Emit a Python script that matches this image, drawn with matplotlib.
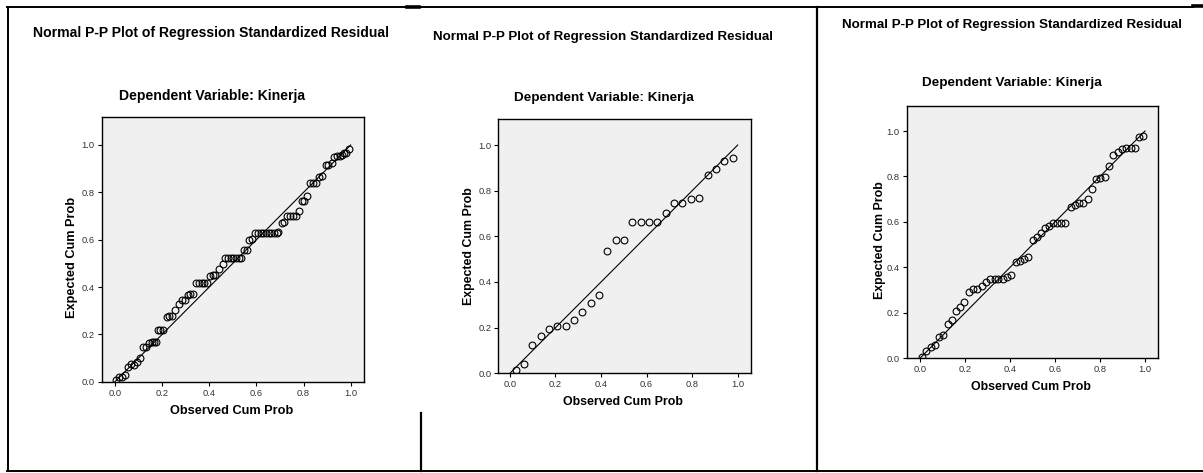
import matplotlib
matplotlib.use("Agg")
import matplotlib.pyplot as plt
from matplotlib.lines import Line2D

W, H = 1203, 473

title = "Normal P-P Plot of Regression Standardized Residual"
subtitle = "Dependent Variable: Kinerja"
xlabel = "Observed Cum Prob"
ylabel = "Expected Cum Prob"
tick_vals = [0.0, 0.2, 0.4, 0.6, 0.8, 1.0]
tick_labels = ["0.0", "0.2", "0.4", "0.6", "0.8", "1.0"]

# Panel 1 data
obs1 = [0.004, 0.018, 0.030, 0.042,
        0.057, 0.068, 0.081, 0.093, 0.106,
        0.120, 0.132, 0.144, 0.156, 0.167, 0.173,
        0.181, 0.191, 0.204,
        0.219, 0.231, 0.242, 0.256, 0.270, 0.283, 0.297, 0.308, 0.319, 0.330,
        0.345, 0.356, 0.368, 0.379, 0.390,
        0.403, 0.414, 0.426, 0.443, 0.457,
        0.468, 0.479, 0.491, 0.502, 0.513, 0.525, 0.536,
        0.547, 0.559, 0.570, 0.583,
        0.595, 0.607, 0.618, 0.629, 0.641, 0.652, 0.663, 0.675, 0.686, 0.693,
        0.707, 0.719, 0.730, 0.744, 0.755, 0.767, 0.781, 0.792, 0.803, 0.815,
        0.829, 0.840, 0.854, 0.866, 0.880, 0.894, 0.905, 0.919,
        0.931, 0.942, 0.953, 0.962, 0.970, 0.982, 0.993]
exp1 = [0.007, 0.018, 0.021, 0.028,
        0.061, 0.073, 0.070, 0.082, 0.101,
        0.145, 0.145, 0.162, 0.166, 0.166, 0.166,
        0.217, 0.217, 0.217,
        0.273, 0.276, 0.276, 0.303, 0.327, 0.345, 0.345, 0.366, 0.372, 0.372,
        0.415, 0.415, 0.415, 0.415, 0.418,
        0.446, 0.449, 0.449, 0.477, 0.496,
        0.524, 0.524, 0.524, 0.524, 0.524, 0.524, 0.524,
        0.556, 0.556, 0.599, 0.604,
        0.630, 0.630, 0.630, 0.630, 0.630, 0.630, 0.630, 0.630, 0.630, 0.634,
        0.672, 0.675, 0.700, 0.700, 0.700, 0.700, 0.723, 0.762, 0.762, 0.785,
        0.841, 0.841, 0.841, 0.866, 0.869, 0.917, 0.917, 0.925,
        0.951, 0.954, 0.954, 0.958, 0.965, 0.968, 0.983]

# Panel 2 data
obs2 = [0.025, 0.061, 0.098, 0.135, 0.171, 0.208, 0.245, 0.281, 0.318,
        0.354, 0.391, 0.428, 0.464, 0.501, 0.537, 0.574, 0.611, 0.647,
        0.684, 0.720, 0.757, 0.794, 0.830, 0.868, 0.905, 0.941, 0.978]
exp2 = [0.015, 0.039, 0.126, 0.165, 0.196, 0.206, 0.206, 0.232, 0.270,
        0.310, 0.341, 0.535, 0.583, 0.583, 0.661, 0.661, 0.661, 0.661,
        0.703, 0.744, 0.744, 0.762, 0.770, 0.868, 0.893, 0.931, 0.942]

# Panel 3 data
obs3 = [0.007, 0.027, 0.047, 0.067, 0.086, 0.104, 0.123, 0.141, 0.160, 0.178,
        0.197, 0.216, 0.236, 0.255, 0.274, 0.293, 0.313, 0.332, 0.348, 0.367,
        0.385, 0.404, 0.425, 0.444, 0.462, 0.481, 0.501, 0.519, 0.538, 0.556,
        0.575, 0.593, 0.610, 0.627, 0.644, 0.671, 0.689, 0.707, 0.726, 0.748,
        0.766, 0.782, 0.801, 0.821, 0.841, 0.859, 0.879, 0.898, 0.917, 0.936,
        0.956, 0.973, 0.993]
exp3 = [0.007, 0.034, 0.051, 0.057, 0.094, 0.101, 0.150, 0.167, 0.207, 0.227,
        0.249, 0.293, 0.306, 0.305, 0.320, 0.334, 0.347, 0.347, 0.347, 0.347,
        0.359, 0.368, 0.424, 0.430, 0.439, 0.444, 0.520, 0.535, 0.553, 0.572,
        0.584, 0.594, 0.594, 0.594, 0.594, 0.664, 0.675, 0.685, 0.685, 0.699,
        0.743, 0.787, 0.792, 0.799, 0.846, 0.894, 0.909, 0.921, 0.926, 0.926,
        0.926, 0.972, 0.979]

plt.rcParams['font.family'] = ['Liberation Sans', 'DejaVu Sans']

fig = plt.figure(figsize=(W / 100, H / 100), dpi=100)


def fx(px):
    return px / W


def fy(py):
    return 1 - py / H


panels = [
    dict(obs=obs1, exp=exp1, box=(101.7, 117.3, 364.3, 381.7), xlim=(-0.0564, 1.0577), ylim=(0, 1.117),
         title=(211, 33, 10.1), sub=(211.7, 95.7, 10.1), lab=9.2, xl=(231.7, 410.7), yl=(72.3, 257.5)),
    dict(obs=obs2, exp=exp2, box=(498.3, 119.0, 750.7, 373.3), xlim=(-0.051, 1.057), ylim=(0, 1.114),
         title=(603, 37.3, 9.65), sub=(603.5, 98.3, 9.7), lab=8.9, xl=(623, 402.3), yl=(469, 246)),
    dict(obs=obs3, exp=exp3, box=(906.7, 106.0, 1158.3, 358.3), xlim=(-0.059, 1.059), ylim=(0, 1.11),
         title=(1012, 25, 9.6), sub=(1012, 83.3, 9.7), lab=8.9, xl=(1031, 387.3), yl=(880, 240)),
]

for p in panels:
    x0, y0, x1, y1 = p['box']
    ax = fig.add_axes([fx(x0), fy(y1), (x1 - x0) / W, (y1 - y0) / H])
    ax.set_facecolor('#F0F0F0')
    ax.plot([0, 1], [0, 1], color='black', lw=0.8, zorder=2)
    ax.plot(p['obs'], p['exp'], linestyle='none', marker='o', markersize=4.9,
            markerfacecolor='none', markeredgecolor='black', markeredgewidth=0.8, zorder=3)
    ax.set_xlim(*p['xlim'])
    ax.set_ylim(*p['ylim'])
    ax.set_xticks(tick_vals)
    ax.set_xticklabels(tick_labels)
    ax.set_yticks(tick_vals)
    ax.set_yticklabels(tick_labels)
    ax.tick_params(direction='out', length=3, width=0.8, labelsize=6.7,
                   labelcolor='#333333', pad=2, top=False, right=False)
    for s in ax.spines.values():
        s.set_linewidth(1.0)
        s.set_color('black')
    tx, ty, ts = p['title']
    fig.text(fx(tx), fy(ty), title, ha='center', va='center', fontsize=ts, fontweight='bold')
    sx, sy, ss = p['sub']
    fig.text(fx(sx), fy(sy), subtitle, ha='center', va='center', fontsize=ss, fontweight='bold')
    lx, ly = p['xl']
    fig.text(fx(lx), fy(ly), xlabel, ha='center', va='center', fontsize=p['lab'], fontweight='bold')
    yx, yy = p['yl']
    fig.text(fx(yx), fy(yy), ylabel, ha='center', va='center', fontsize=p['lab'], fontweight='bold',
             rotation=90)

# table border lines
border = [
    ((7, 1193), (7.3, 7.3), 1.4),
    ((407, 419), (6.8, 6.8), 2.6),
    ((1193, 1203), (6.3, 6.3), 2.6),
    ((7.5, 7.5), (7, 471), 1.4),
    ((7, 1203), (470.7, 470.7), 1.4),
    ((817.3, 817.3), (7, 471), 1.6),
    ((421.3, 421.3), (413, 471), 1.6),
]
for xs, ys, lw in border:
    fig.add_artist(Line2D([fx(xs[0]), fx(xs[1])], [fy(ys[0]), fy(ys[1])],
                          color='black', lw=lw, transform=fig.transFigure))

fig.savefig('out.png', dpi=100)
